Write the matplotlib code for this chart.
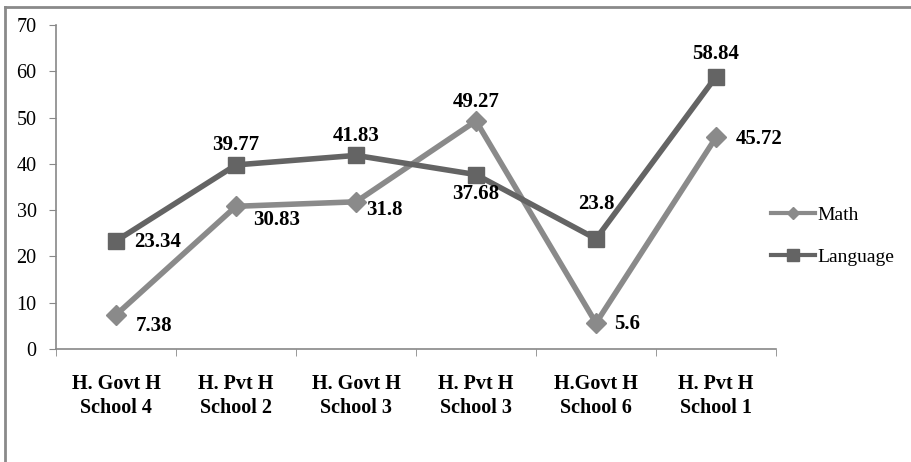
import matplotlib
matplotlib.use("Agg")
import matplotlib.pyplot as plt
from matplotlib.lines import Line2D

categories = ["H. Govt H\nSchool 4", "H. Pvt H\nSchool 2", "H. Govt H\nSchool 3",
              "H. Pvt H\nSchool 3", "H.Govt H\nSchool 6", "H. Pvt H\nSchool 1"]
math_vals = [7.38, 30.83, 31.8, 49.27, 5.6, 45.72]
lang_vals = [23.34, 39.77, 41.83, 37.68, 23.8, 58.84]
math_labels = ["7.38", "30.83", "31.8", "49.27", "5.6", "45.72"]
lang_labels = ["23.34", "39.77", "41.83", "37.68", "23.8", "58.84"]
yticks = [0, 10, 20, 30, 40, 50, 60, 70]

plt.rcParams['font.family'] = ['Liberation Serif', 'DejaVu Serif']

fig = plt.figure(figsize=(9.11, 4.62), dpi=100)
ax = fig.add_axes([56/911, 1-349/462, 720/911, 324/462])

x = list(range(len(categories)))
math_c = "#8a8a8a"
lang_c = "#646464"
ax.plot(x, math_vals, color=math_c, lw=4, marker="D", ms=10, mec=math_c, mfc=math_c,
        label="Math", zorder=3)
ax.plot(x, lang_vals, color=lang_c, lw=4, marker="s", ms=12, mec=lang_c, mfc=lang_c,
        label="Language", zorder=3)

fs_lbl = 15
# label offsets in points (dx, dy, ha)
math_off = [(14, -8, "left"), (12, -10, "left"), (7, -6, "left"), (0, 14, "center"),
            (13, -1, "left"), (14, -1, "left")]
lang_off = [(13, -1, "left"), (0, 14, "center"), (0, 14, "center"), (0, -14, "center"),
            (0, 25, "center"), (0, 16, "center")]
for i in x:
    dx, dy, ha = math_off[i]
    ax.annotate(math_labels[i], (i, math_vals[i]), xytext=(dx, dy), textcoords="offset points",
                ha=ha, va="center", fontsize=fs_lbl, fontweight="bold", color="#000000")
    dx, dy, ha = lang_off[i]
    ax.annotate(lang_labels[i], (i, lang_vals[i]), xytext=(dx, dy), textcoords="offset points",
                ha=ha, va="center", fontsize=fs_lbl, fontweight="bold", color="#000000")

ax.set_xlim(-0.5, len(categories) - 0.5)
ax.set_ylim(0, 70)
ax.set_yticks(yticks)
ax.set_yticklabels([str(v) for v in yticks], fontsize=14.5)
ax.set_xticks(x)
ax.set_xticklabels(categories, fontsize=14.5, fontweight="bold", linespacing=1.25)
ax.set_xticks([i - 0.5 for i in range(len(categories) + 1)], minor=True)
ax.tick_params(axis="x", which="major", length=0, pad=18)
ax.tick_params(axis="x", which="minor", length=5, color="#888888", direction="out")
ax.tick_params(axis="y", length=5, color="#888888", direction="out", pad=9)
for s in ["top", "right"]:
    ax.spines[s].set_visible(False)
for s in ["left", "bottom"]:
    ax.spines[s].set_color("#888888")
    ax.spines[s].set_linewidth(1.2)

handles = [Line2D([], [], color=math_c, lw=3, marker="D", ms=6),
           Line2D([], [], color=lang_c, lw=3, marker="s", ms=8)]
fig.legend(handles, ["Math", "Language"], loc="center left",
           bbox_to_anchor=(753/911, 1-236/462), frameon=False, fontsize=14,
           handlelength=2.3, handletextpad=0.1, labelspacing=1.25)

# figure border (top and left only)
fig.add_artist(Line2D([4.5/911, 4.5/911], [0, 1-6.5/462], transform=fig.transFigure,
                      color="#8a8a8a", lw=2))
fig.add_artist(Line2D([4.5/911, 1], [1-6.5/462, 1-6.5/462], transform=fig.transFigure,
                      color="#8a8a8a", lw=2))

fig.savefig("out.png", dpi=100)
